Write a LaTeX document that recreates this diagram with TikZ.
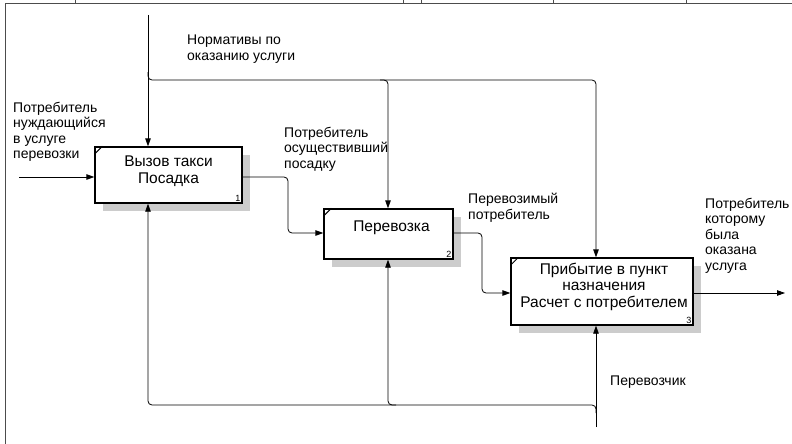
\documentclass[tikz,border=0pt]{standalone}
\usepackage{fontspec}
\setmainfont{Liberation Sans}
\usetikzlibrary{arrows.meta,shadows,calc}

\begin{document}
\begin{tikzpicture}[x=1pt,y=-1pt,
  flow/.style={line width=0.8pt,-{Triangle[length=8pt,width=5.5pt]},rounded corners=4pt},
  func/.style={draw,line width=1.3pt,fill=white,
    drop shadow={shadow xshift=8pt,shadow yshift=-8pt,fill=gray!40,opacity=1}},
  boxtext/.style={align=center,inner sep=0pt,font=\fontsize{15.5}{16.5}\selectfont},
  lbl/.style={anchor=north west,align=left,inner sep=0pt,font=\fontsize{14}{15.5}\selectfont},
  num/.style={anchor=south east,inner sep=2pt,font=\fontsize{9}{9}\selectfont}]

\useasboundingbox (0,0) rectangle (792,444);

% frame
\draw[black!70,line width=1pt] (5,444) -- (5,4) -- (792,4);
\foreach \t in {75,403,421,553,686}
  \draw[black!70,line width=0.8pt] (\t,0) -- (\t,4);

% lanes
\coordinate (lane1) at (148,0);
\coordinate (lane2) at (388,0);
\coordinate (lane3) at (596,0);

% functions
\node[func,minimum width=147pt,minimum height=56pt] (box1) at (168.5,175) {};
\node[func,minimum width=129pt,minimum height=50pt] (box2) at (388.5,234) {};
\node[func,minimum width=182pt,minimum height=67pt] (box3) at (602,291.5) {};

\node[boxtext] (t1) at ([yshift=4pt]box1.center) {Вызов такси\\Посадка};
\node[boxtext] (t2) at ([xshift=3pt,yshift=6.5pt]box2.center) {Перевозка};
\node[boxtext] (t3) at ([xshift=2pt,yshift=5pt]box3.center) {Прибытие в пункт\\назначения\\Расчет с потребителем};

\node[num] (n1) at (box1.south east) {1};
\node[num] (n2) at (box2.south east) {2};
\node[num] (n3) at (box3.south east) {3};
\foreach \b in {box1,box2,box3}
  \draw[line width=1pt] ([yshift=-8pt]\b.north west) -- ([xshift=8pt]\b.north west);

% control
\coordinate (ctop) at (148,15);
\coordinate (cbr) at (148,80);
\draw[flow] (ctop) -- (lane1 |- box1.north);
\draw[flow] ($(cbr)+(0,-8)$) -- (cbr) -- (cbr -| lane3) -- (lane3 |- box3.north);
\draw[flow] ($(cbr -| lane2)+(-8,0)$) -- (cbr -| lane2) -- (lane2 |- box2.north);
\node[lbl] (ctrlLbl) at (187,35) {Нормативы по\\оказанию услуги};

% input and outputs
\coordinate (in1) at (19,177);
\coordinate (j1) at (288,233);
\coordinate (j2) at (482,293);
\coordinate (out) at (785,293);
\draw[flow] (in1) -- (in1 -| box1.west);
\draw[flow] (in1 -| box1.east) -- (in1 -| j1) -- (j1) -- (j1 -| box2.west);
\draw[flow] (j1 -| box2.east) -- (j1 -| j2) -- (j2) -- (j2 -| box3.west);
\draw[flow] (j2 -| box3.east) -- (out);
\node[lbl] (inLbl) at (13,102) {Потребитель\\нуждающийся\\в услуге\\перевозки};
\node[lbl] (o1Lbl) at (284,127) {Потребитель\\осуществивший\\посадку};
\node[lbl] (o2Lbl) at (468,193) {Перевозимый\\потребитель};
\node[lbl] (outLbl) at (705,198) {Потребитель\\которому\\была\\оказана\\услуга};

% mechanism
\coordinate (mbot) at (596,427);
\coordinate (mbr) at (596,405);
\draw[flow] (mbot) -- (lane3 |- box3.south);
\draw[flow] ($(mbr)+(0,8)$) -- (mbr) -- (mbr -| lane1) -- (lane1 |- box1.south);
\draw[flow] ($(mbr -| lane2)+(8,0)$) -- (mbr -| lane2) -- (lane2 |- box2.south);
\node[lbl] (mechLbl) at (610,376) {Перевозчик};

\end{tikzpicture}
\end{document}
